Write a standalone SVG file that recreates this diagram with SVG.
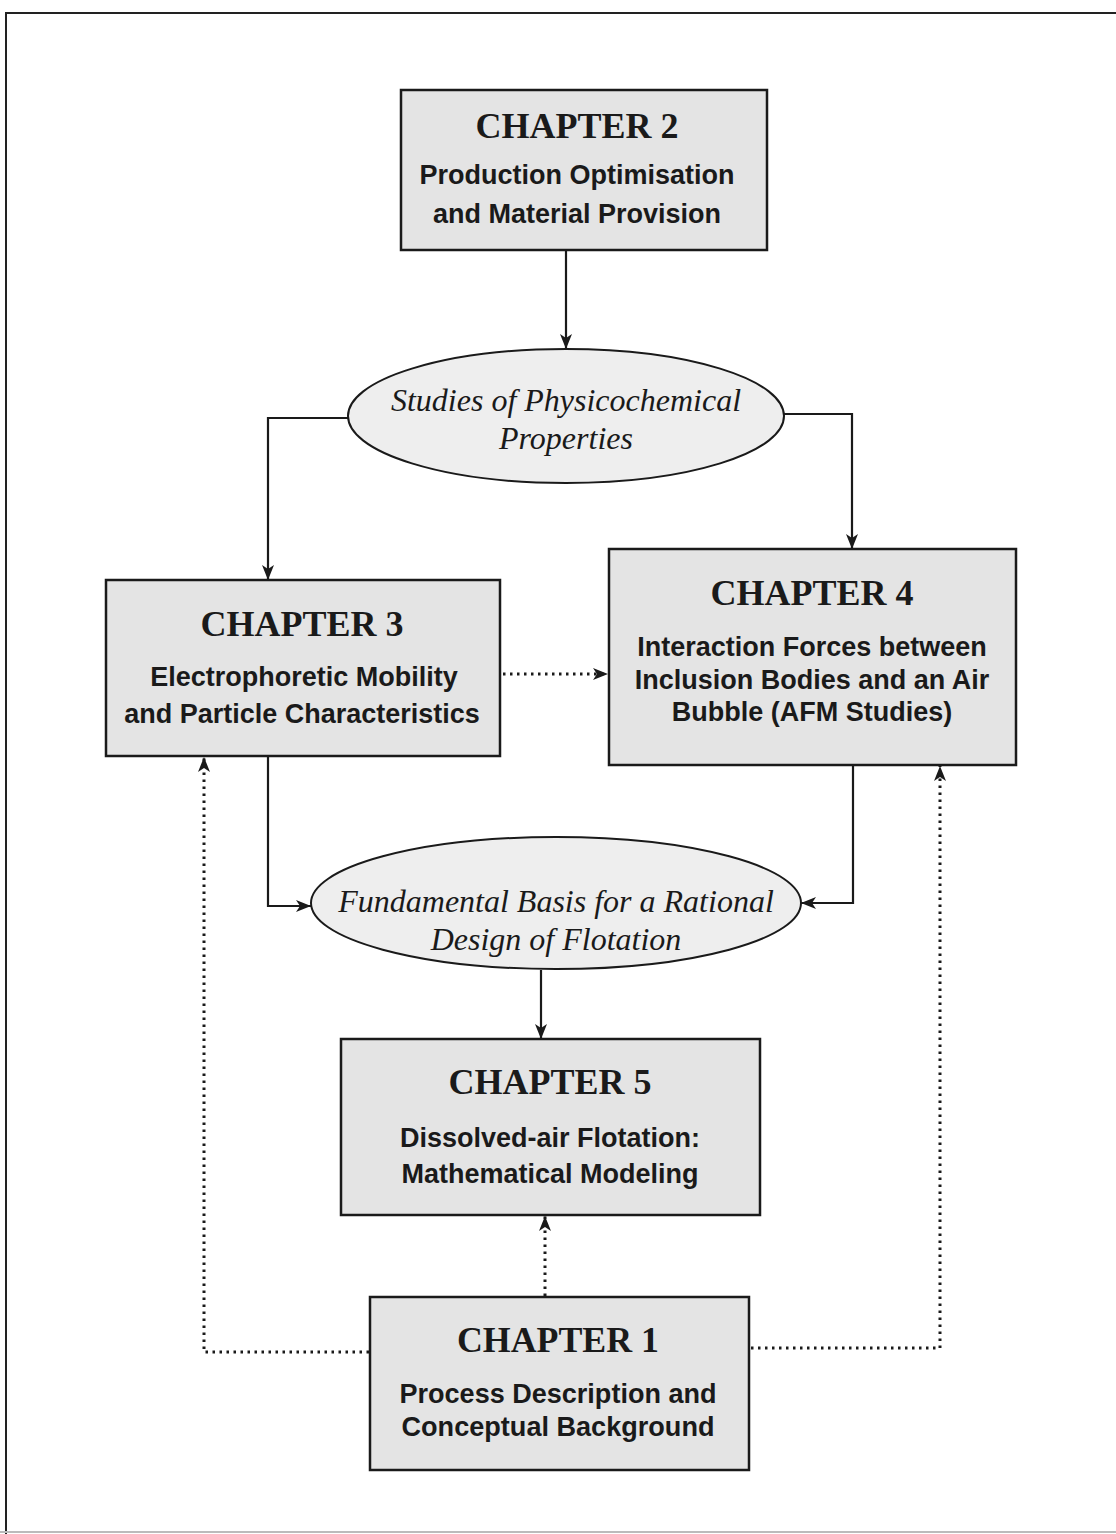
<svg xmlns="http://www.w3.org/2000/svg" width="1116" height="1534" viewBox="0 0 1116 1534">
<style>
.box{fill:#e4e4e4;stroke:#1a1a1a;stroke-width:2.5}
.ell{fill:#eeeeee;stroke:#1a1a1a;stroke-width:2}
.ch{font-family:"Liberation Serif","Times New Roman",serif;font-weight:bold;font-size:36px;fill:#1a1a1a;text-anchor:middle}
.sub{font-family:"Liberation Sans",Arial,sans-serif;font-weight:bold;font-size:27px;fill:#1a1a1a;text-anchor:middle}
.it{font-family:"Liberation Serif","Times New Roman",serif;font-style:italic;font-size:32px;fill:#1a1a1a;text-anchor:middle}
.ln{fill:none;stroke:#1a1a1a;stroke-width:2.2}
.dot{fill:none;stroke:#1a1a1a;stroke-width:3;stroke-dasharray:2.5 4.5}
</style>
<defs>
<marker id="ah" viewBox="0 0 15 12" refX="15" refY="6" markerWidth="15" markerHeight="12" markerUnits="userSpaceOnUse" orient="auto">
<path d="M0,0 L15,6 L0,12 L4,6 z" fill="#1a1a1a"/>
</marker>
</defs>
<path d="M6,1534 L6,13 L1116,13" fill="none" stroke="#222" stroke-width="2"/>
<line x1="0" y1="1532" x2="1116" y2="1532" stroke="#bbbbbb" stroke-width="2"/>
<g id="connectors">
<line class="ln" x1="566" y1="251" x2="566" y2="349" marker-end="url(#ah)"/>
<polyline class="ln" points="349,418 268,418 268,580" marker-end="url(#ah)"/>
<polyline class="ln" points="783,414 852,414 852,549" marker-end="url(#ah)"/>
<line class="dot" x1="503" y1="674" x2="608" y2="674" marker-end="url(#ah)"/>
<polyline class="ln" points="268,757 268,906 311,906" marker-end="url(#ah)"/>
<polyline class="ln" points="853,766 853,903 801,903" marker-end="url(#ah)"/>
<line class="ln" x1="541" y1="970" x2="541" y2="1039" marker-end="url(#ah)"/>
<line class="dot" x1="545" y1="1296" x2="545" y2="1216" marker-end="url(#ah)"/>
<polyline class="dot" points="369,1352 204,1352 204,757" marker-end="url(#ah)"/>
<polyline class="dot" points="751,1348 940,1348 940,766" marker-end="url(#ah)"/>
</g>
<g id="ch2">
<rect class="box" x="401" y="90" width="366" height="160"/>
<text class="ch" x="577" y="138">CHAPTER 2</text>
<text class="sub" x="577" y="184">Production Optimisation</text>
<text class="sub" x="577" y="223">and Material Provision</text>
</g>
<g id="physchem">
<ellipse class="ell" cx="566" cy="416" rx="218" ry="67"/>
<text class="it" x="566" y="411">Studies of Physicochemical</text>
<text class="it" x="566" y="449">Properties</text>
</g>
<g id="ch3">
<rect class="box" x="106" y="580" width="394" height="176"/>
<text class="ch" x="302" y="636">CHAPTER 3</text>
<text class="sub" x="304" y="686">Electrophoretic Mobility</text>
<text class="sub" x="302" y="723">and Particle Characteristics</text>
</g>
<g id="ch4">
<rect class="box" x="609" y="549" width="407" height="216"/>
<text class="ch" x="812" y="605">CHAPTER 4</text>
<text class="sub" x="812" y="656">Interaction Forces between</text>
<text class="sub" x="812" y="689">Inclusion Bodies and an Air</text>
<text class="sub" x="812" y="721">Bubble (AFM Studies)</text>
</g>
<g id="fundamental">
<ellipse class="ell" cx="556" cy="903" rx="245" ry="66"/>
<text class="it" x="556" y="912">Fundamental Basis for a Rational</text>
<text class="it" x="556" y="950">Design of Flotation</text>
</g>
<g id="ch5">
<rect class="box" x="341" y="1039" width="419" height="176"/>
<text class="ch" x="550" y="1094">CHAPTER 5</text>
<text class="sub" x="550" y="1147">Dissolved-air Flotation:</text>
<text class="sub" x="550" y="1183">Mathematical Modeling</text>
</g>
<g id="ch1">
<rect class="box" x="370" y="1297" width="379" height="173"/>
<text class="ch" x="558" y="1352" textLength="202" lengthAdjust="spacingAndGlyphs">CHAPTER 1</text>
<text class="sub" x="558" y="1403" textLength="317" lengthAdjust="spacingAndGlyphs">Process Description and</text>
<text class="sub" x="558" y="1436" textLength="313" lengthAdjust="spacingAndGlyphs">Conceptual Background</text>
</g>
</svg>
